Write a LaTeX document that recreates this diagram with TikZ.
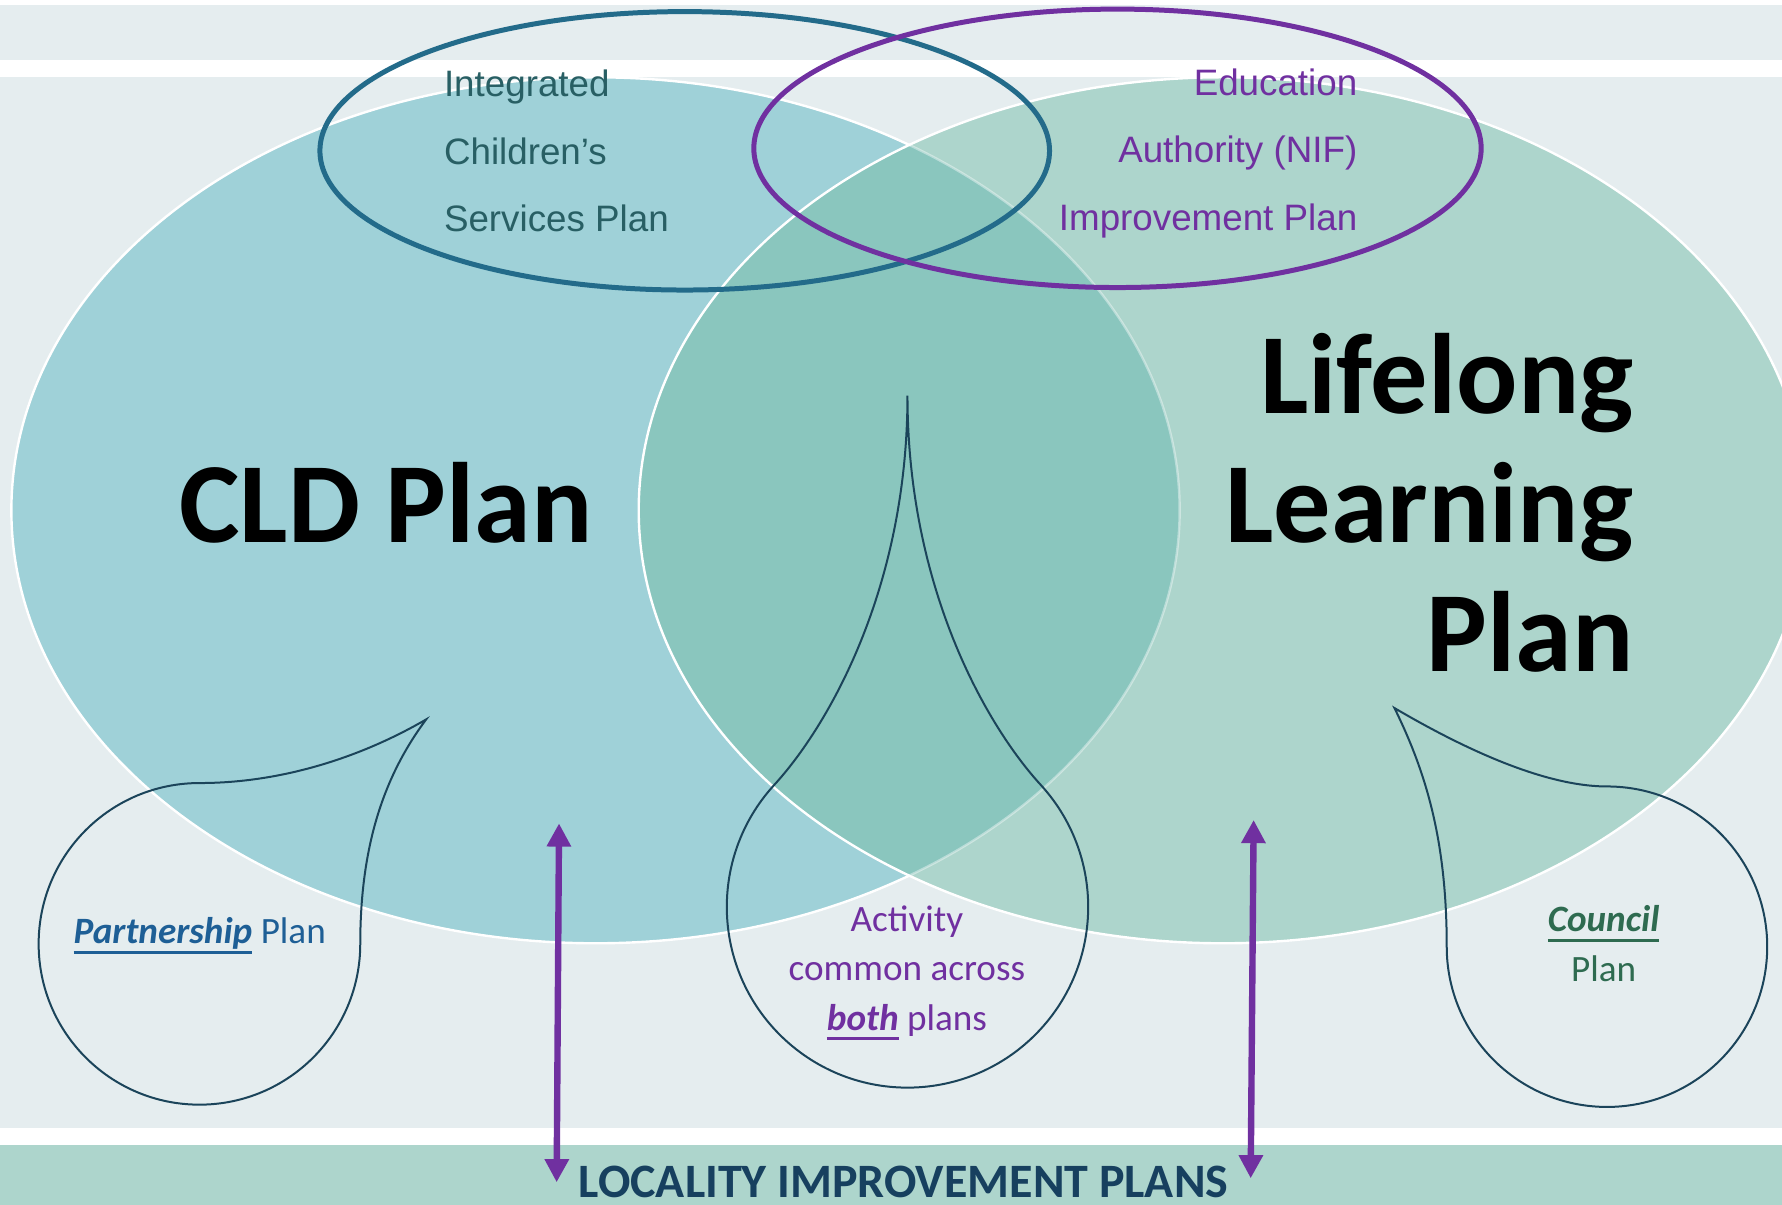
\documentclass[tikz,border=0pt]{standalone}
\usepackage{fontspec}
\setmainfont{Carlito}
\newfontfamily\arialfam{Liberation Sans}
\usetikzlibrary{arrows.meta}

\definecolor{bgpale}{RGB}{229,237,239}
\definecolor{cldfill}{RGB}{159,209,216}
\definecolor{llpfill}{RGB}{173,213,204}
\definecolor{bothfill}{RGB}{138,198,190}
\definecolor{icspline}{RGB}{35,107,138}
\definecolor{icsptext}{RGB}{40,95,100}
\definecolor{eapurple}{RGB}{112,48,160}
\definecolor{dropline}{RGB}{27,68,90}
\definecolor{partblue}{RGB}{30,95,150}
\definecolor{councilgreen}{RGB}{46,107,80}
\definecolor{localnavy}{RGB}{23,64,95}

% bold italic word with a fixed underline
\newcommand{\planul}[1]{\setbox0\hbox{\textbf{\textit{#1}}}\rlap{\rule[-2.4pt]{\wd0}{0.65pt}}\box0\relax}

\begin{document}
\begin{tikzpicture}[x=0.01cm, y=-0.01cm,
    bigplan/.style={x radius=514, y radius=381},
    subplan/.style={draw=#1, line width=1.25pt},
    drop/.style={draw=dropline, line width=0.5pt},
    updown/.style={draw=eapurple, line width=1.6pt,
      {Triangle[length=5.8pt,width=5.8pt]}-{Triangle[length=5.8pt,width=5.8pt]}},
    subtxt/.style={font=\arialfam\fontsize{9.2}{11}\selectfont, inner sep=0pt},
    bigtxt/.style={font=\bfseries\fontsize{28.6}{32}\selectfont, inner sep=0pt},
    droptxt/.style={font=\fontsize{9.3}{11}\selectfont, inner sep=0pt, anchor=base}]
  \useasboundingbox (0,0) rectangle (1568,1060);
  \clip (0,0) rectangle (1568,1060);
  % Background bands
  \fill[white] (0,0) rectangle (1568,1060);
  \fill[bgpale] (0,4.4) rectangle (1568,52.8);
  \fill[bgpale] (0,67.5) rectangle (1568,992.2);
  \fill[llpfill] (0,1007.5) rectangle (1568,1060);
  % The two plans
  \coordinate (cldc) at (524,449);
  \coordinate (llpc) at (1076,449);
  \fill[cldfill] (cldc) ellipse[bigplan];
  \draw[white, line width=0.6pt] (cldc) ellipse[bigplan];
  \fill[llpfill] (llpc) ellipse[bigplan];
  \begin{scope}
    \clip (llpc) ellipse[bigplan];
    \fill[bothfill] (cldc) ellipse[bigplan];
    \draw[white, opacity=0.4, line width=0.6pt] (cldc) ellipse[bigplan];
  \end{scope}
  \draw[white, line width=0.6pt] (llpc) ellipse[bigplan];
  % Integrated children's / education authority plans
  \draw[subplan=icspline] (602.5,132.7) ellipse[x radius=321, y radius=122.5];
  \draw[subplan=eapurple] (983.3,130.5) ellipse[x radius=320, y radius=122.5];
  \foreach \txt [count=\i] in {Integrated, Children’s, Services Plan}
    \node[subtxt, text=icsptext, anchor=base west] (icsp\i) at (390, 25.5+59.5*\i) {\txt};
  \foreach \txt [count=\i] in {Education, Authority (NIF), Improvement Plan}
    \node[subtxt, text=eapurple, anchor=base east] (eaip\i) at (1195, 24.5+59.3*\i) {\txt};
  % Plan titles
  \node[bigtxt, anchor=base west] (cldname) at (157,477.5) {CLD Plan};
  \foreach \txt [count=\i] in {Lifelong, Learning, Plan}
    \node[bigtxt, anchor=base east] (llpname\i) at (1438, 250.5+113.5*\i) {\txt};
  % Drops
  \draw[drop] (375,633) .. controls (320,665) and (250,689) .. (175.5,689)
    arc[start angle=270, end angle=0, radius=141.5]
    .. controls (317,740) and (340,680) .. cycle;
  \draw[drop] (798.5,348) .. controls (798.5,518) and (728.6,639) .. (681.3,690.6)
    arc[start angle=222.5, end angle=-42.5, radius=159]
    .. controls (868.4,639) and (798.5,518) .. cycle;
  \draw[drop] (1227,623) .. controls (1290,660) and (1360,692) .. (1414,692)
    arc[start angle=270, end angle=540, radius=141]
    .. controls (1273,740) and (1255,680) .. cycle;
  \node[droptxt, text=partblue, anchor=base west] (partner) at (64,830.6)
    {\planul{Partnership} Plan};
  \node[droptxt, text=eapurple] (both1) at (798,820) {Activity};
  \node[droptxt, text=eapurple] (both2) at (798,863) {common across};
  \node[droptxt, text=eapurple] (both3) at (798,906.5) {\planul{both} plans};
  \node[droptxt, text=councilgreen] (council1) at (1411,820) {\planul{Council}};
  \node[droptxt, text=councilgreen] (council2) at (1411,864) {Plan};
  % Locality plans
  \node[font=\bfseries\fontsize{12}{14}\selectfont, text=localnavy, anchor=base, inner sep=0pt]
    (locality) at (795,1054) {LOCALITY IMPROVEMENT PLANS};
  \coordinate (cldup) at (491.9,724.5);
  \coordinate (clddown) at (489.8,1040.3);
  \coordinate (llpup) at (1103.1,721.5);
  \coordinate (llpdown) at (1100.5,1036.8);
  \draw[updown] (cldup) -- (clddown);
  \draw[updown] (llpup) -- (llpdown);
\end{tikzpicture}
\end{document}
